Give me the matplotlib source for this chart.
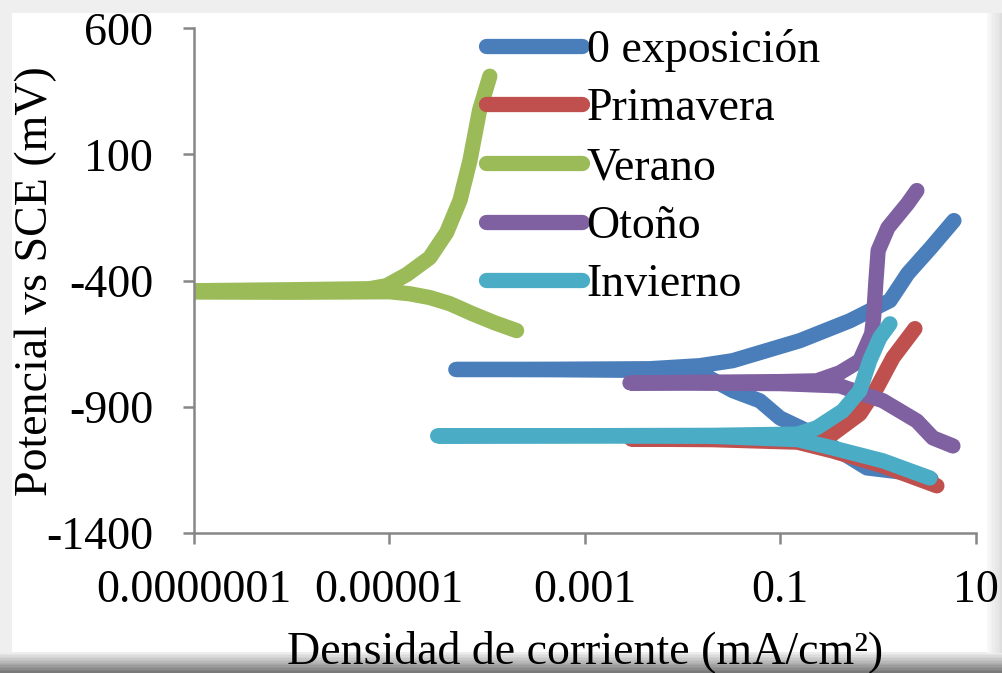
import matplotlib.pyplot as plt
from matplotlib.patches import Rectangle

# --- data (current in mA/cm2, potential in mV vs SCE)
labels = ['0 exposición', 'Primavera', 'Verano', 'Otoño', 'Invierno']
colors = ['#4A7EBB', '#C0504D', '#9BBB59', '#7F60A0', '#4BACC6']

blue_i = [3.47, 2.49, 0.767, 0.187, 0.099, 0.0617, 0.0327, 0.015, 0.005, 0.0005, 4.8e-5,
          0.0005, 0.0046, 0.015, 0.0327, 0.158, 0.514, 1.32, 2.01, 3.47, 5.96]
blue_e = [-1186, -1166, -1142, -995, -944, -876, -836, -765, -756, -753, -752,
          -751, -749, -737, -717, -638, -559, -479, -372, -269, -162]

red_i = [3.99, 1.12, 0.344, 0.15, 0.02, 0.003, 0.02, 0.15, 0.344, 0.65, 0.97, 1.42, 2.38]
red_e = [-1213, -1134, -1075, -1040, -1030, -1028, -1026, -1020, -1007, -928, -825, -705, -590]

green_i = [2.01e-4, 1.2e-4, 7.1e-5, 4.16e-5, 2.6e-5, 1.62e-5, 1.01e-5, 1e-6, 1e-8,
           1e-6, 6.3e-6, 9.4e-6, 1.51e-5, 2.6e-5, 3.87e-5, 5.3e-5, 6.7e-5, 8.4e-5, 1.07e-4]
green_e = [-598, -567, -531, -491, -467, -452, -444, -446, -444,
           -436, -432, -420, -376, -309, -209, -82, 76, 275, 410]

purple_i = [5.82, 3.63, 2.49, 1.12, 0.406, 0.1, 0.0029, 0.1, 0.236, 0.406, 0.65, 0.86,
            0.90, 0.95, 1.0, 1.26, 2.01, 2.49]
purple_e = [-1055, -1023, -956, -876, -817, -808, -805, -800, -797, -765, -717, -610,
            -544, -400, -281, -190, -94, -43]

cyan_i = [3.38, 1.12, 0.344, 0.15, 0.02, 0.002, 3.13e-5, 0.002, 0.02, 0.15, 0.236, 0.435,
          0.65, 0.82, 1.04, 1.32]
cyan_e = [-1182, -1114, -1063, -1030, -1017, -1015, -1015, -1014, -1013, -1008, -983, -916,
          -836, -717, -626, -571]

series_i = [blue_i, red_i, green_i, purple_i, cyan_i]
series_e = [blue_e, red_e, green_e, purple_e, cyan_e]

xticks = [1e-7, 1e-5, 1e-3, 0.1, 10]
xtick_labels = ['0.0000001', '0.00001', '0.001', '0.1', '10']
yticks = [-1400, -900, -400, 100, 600]

plt.rcParams['font.family'] = ['Liberation Serif', 'DejaVu Serif']
plt.rcParams['axes.unicode_minus'] = False

fig = plt.figure(figsize=(10.03, 6.73), dpi=100, facecolor='#efefef')

# white card with a soft shadow along the bottom and right edge
fig.patches.append(Rectangle((0.012, 0.03), 0.972, 0.95, transform=fig.transFigure,
                             facecolor='white', edgecolor='none', zorder=-9))
n_steps = 14
for k in range(n_steps):
    g = 0.93 - 0.035 * k
    fig.patches.append(Rectangle((0.0, 0.030 - (k + 1) * 0.030 / n_steps), 1.0, 0.030 / n_steps + 0.0005,
                                 transform=fig.transFigure, facecolor=(g, g, g),
                                 edgecolor='none', zorder=-8))
for k in range(6):
    g = 0.97 - 0.02 * k
    fig.patches.append(Rectangle((0.984 + k * 0.0027, 0.03), 0.0028, 0.95,
                                 transform=fig.transFigure, facecolor=(g, g, g),
                                 edgecolor='none', zorder=-8))

ax = fig.add_axes([0.193, 0.208, 0.780, 0.750])
ax.patch.set_alpha(0)

for xs, ys, c, lab in zip(series_i, series_e, colors, labels):
    ax.plot(xs, ys, color=c, linewidth=11, solid_capstyle='round',
            solid_joinstyle='round', label=lab)

ax.set_xscale('log')
ax.set_xlim(1e-7, 10)
ax.set_ylim(-1400, 600)
ax.set_xticks(xticks)
ax.set_xticklabels(xtick_labels)
ax.minorticks_off()
ax.set_yticks(yticks)

for side in ['top', 'right']:
    ax.spines[side].set_visible(False)
for side in ['left', 'bottom']:
    ax.spines[side].set_color('#868686')
    ax.spines[side].set_linewidth(1.8)

ax.tick_params(axis='both', labelsize=33, color='#868686', width=1.8, length=8)
ax.tick_params(axis='y', pad=21)
ax.tick_params(axis='x', pad=18)

ax.set_xlabel('Densidad de corriente (mA/cm²)', fontsize=33, labelpad=13)
ax.set_ylabel('Potencial vs SCE (mV)', fontsize=33)
ax.yaxis.set_label_coords(-0.175, 0.5)

ax.legend(loc='upper left', bbox_to_anchor=(0.35, 1.035), frameon=False,
          fontsize=33, handlelength=2.1, handletextpad=0.1, labelspacing=0.35,
          borderaxespad=0)

plt.savefig('out.png', dpi=100, facecolor=fig.get_facecolor())
